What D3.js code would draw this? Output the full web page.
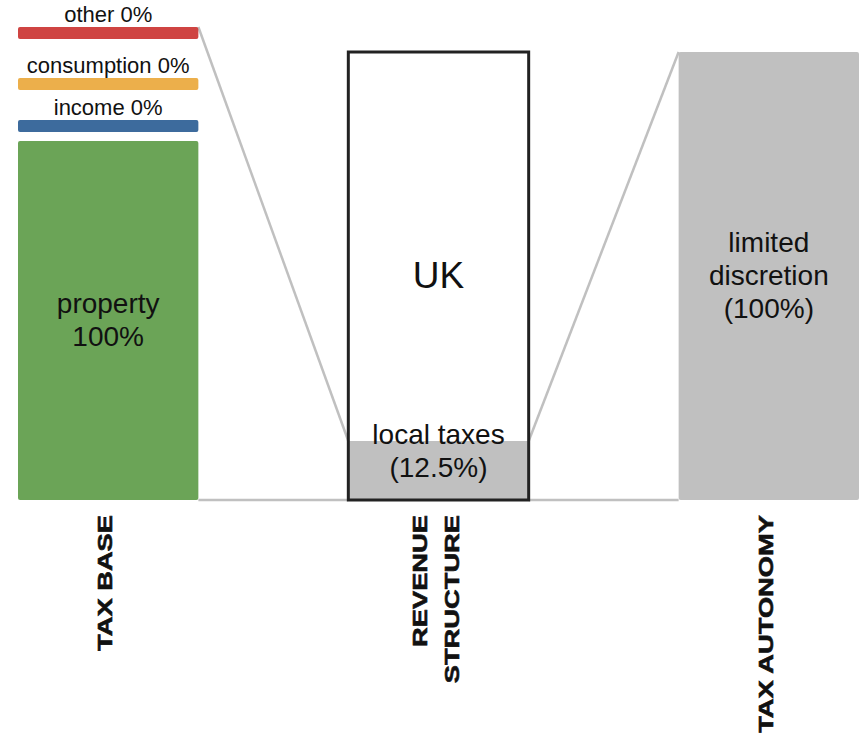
<!DOCTYPE html>
<html>
<head>
<meta charset="utf-8">
<script src="https://cdn.jsdelivr.net/npm/d3@7"></script>
<style>
  body { margin: 0; background: #fff; }
  svg { font-family: "Liberation Sans", Arial, Helvetica, sans-serif; }
</style>
</head>
<body>
<svg id="chart"></svg>
<script>
// Local tax profile: three stacked columns joined by funnel lines

var width = 865,
    height = 745;

// data
var columnTitles = ["TAX BASE", "REVENUE STRUCTURE", "TAX AUTONOMY"];
var titleLines = [["TAX BASE"], ["REVENUE", "STRUCTURE"], ["TAX AUTONOMY"]];
var country = "UK";
var baseCategories = ["property", "income", "consumption", "other"];
var baseValues = [100, 0, 0, 0];
var baseColors = ["#6ba457", "#3d6b9d", "#ecaf4b", "#cf4442"];
var revenueCategories = ["local taxes"];
var revenueValues = [12.5];
var autonomyCategories = ["limited discretion"];
var autonomyValues = [100];

var yTop = 52,
    yBottom = 500,
    zeroBar = 12,        // height for 0% slices
    zeroStep = [21, 42, 51],
    lineGap = 33,
    grey = "#c0c0c0";

var svg = d3.select("#chart")
    .attr("width", width)
    .attr("height", height);

var xscale = d3.scaleBand()
    .domain(columnTitles)
    .range([18, 859])
    .paddingInner(0.454)
    .paddingOuter(0);

var yscale = d3.scaleLinear().domain([0, 100]).range([yBottom, yTop]);
// tax base column leaves room above for the empty categories
var ybase = d3.scaleLinear().domain([0, 100]).range([yBottom, 141]);

var bw = xscale.bandwidth(),
    x0 = xscale(columnTitles[0]),
    x1 = xscale(columnTitles[1]),
    x2 = xscale(columnTitles[2]);

// build tax base segments, empty slices stacked one step above the previous
var segs = [], acc = 0;
baseValues.forEach(function(v, i) {
  var y0, y1;
  if (v > 0) {
    y1 = ybase(acc);
    y0 = ybase(acc + v);
  } else {
    y0 = segs[i - 1].y0 - zeroStep[i - 1];
    y1 = y0 + zeroBar;
  }
  acc += v;
  segs.push({name: baseCategories[i], value: v, color: baseColors[i], y0: y0, y1: y1});
});
var baseTop = d3.min(segs, function(d) { return d.y0; });

var revTop = yscale(revenueValues[0]);
var autTop = yscale(autonomyValues[0]);

// funnel lines
var links = [
  [[x0 + bw, baseTop], [x1, revTop - 3]],
  [[x0 + bw, yBottom], [x1, yBottom]],
  [[x1 + bw, revTop - 3], [x2, autTop]],
  [[x1 + bw, yBottom], [x2, yBottom]]
];
svg.selectAll(".link")
    .data(links)
  .enter().append("path")
    .attr("class", "link")
    .attr("d", d3.line())
    .attr("fill", "none")
    .attr("stroke", grey)
    .attr("stroke-width", 2.5);

// tax base column
svg.selectAll(".base")
    .data(segs)
  .enter().append("rect")
    .attr("class", "base")
    .attr("x", x0)
    .attr("width", bw)
    .attr("y", function(d) { return d.y0; })
    .attr("height", function(d) { return d.y1 - d.y0; })
    .attr("rx", 2)
    .attr("fill", function(d) { return d.color; });

function multiline(sel, lines, x, yFirst, size) {
  var t = sel.append("text")
      .attr("text-anchor", "middle")
      .attr("font-size", size)
      .attr("fill", "#111");
  lines.forEach(function(l, i) {
    t.append("tspan").attr("x", x).attr("y", yFirst + i * lineGap).text(l);
  });
}

segs.forEach(function(d) {
  var cx = x0 + bw / 2;
  if (d.value > 0) {
    var c = (d.y0 + d.y1) / 2 + 9 - lineGap / 2;
    multiline(svg, [d.name, d.value + "%"], cx, c, 28);
  } else {
    svg.append("text")
      .attr("x", cx)
      .attr("y", d.y0 - 5)
      .attr("text-anchor", "middle")
      .attr("font-size", 22)
      .attr("fill", "#111")
      .text(d.name + " " + d.value + "%");
  }
});

// revenue structure column
svg.append("rect")
    .attr("x", x1)
    .attr("y", revTop - 3)
    .attr("width", bw)
    .attr("height", yBottom - revTop + 3)
    .attr("fill", grey);
svg.append("rect")
    .attr("x", x1)
    .attr("y", yTop)
    .attr("width", bw)
    .attr("height", yBottom - yTop)
    .attr("fill", "none")
    .attr("stroke", "#222")
    .attr("stroke-width", 3);
svg.append("text")
    .attr("x", x1 + bw / 2)
    .attr("y", (yTop + yBottom) / 2 + 12)
    .attr("text-anchor", "middle")
    .attr("font-size", 37)
    .attr("fill", "#111")
    .text(country);
multiline(svg, [revenueCategories[0], "(" + revenueValues[0] + "%)"], x1 + bw / 2, revTop, 28);

// tax autonomy column
svg.append("rect")
    .attr("x", x2)
    .attr("y", autTop)
    .attr("width", bw)
    .attr("height", yBottom - autTop)
    .attr("rx", 2)
    .attr("fill", grey);
var words = autonomyCategories[0].split(" ");
multiline(svg, words.concat(["(" + autonomyValues[0] + "%)"]), x2 + bw / 2,
  (autTop + yBottom) / 2 + 9 - lineGap, 28);

// vertical column titles
titleLines.forEach(function(lines, i) {
  var cx = xscale(columnTitles[i]) + bw / 2;
  var n = lines.length;
  lines.forEach(function(l, j) {
    var bx = cx + 4 + (j - (n - 1) / 2) * 32;
    svg.append("text")
      .attr("transform", "translate(" + bx + ",515) rotate(-90) scale(1.3,1)")
      .attr("text-anchor", "end")
      .attr("font-size", 21)
      .attr("font-weight", "bold")
      .attr("fill", "#111")
      .attr("stroke", "#111")
      .attr("stroke-width", 0.6)
      .text(l);
  });
});
</script>
</body>
</html>
